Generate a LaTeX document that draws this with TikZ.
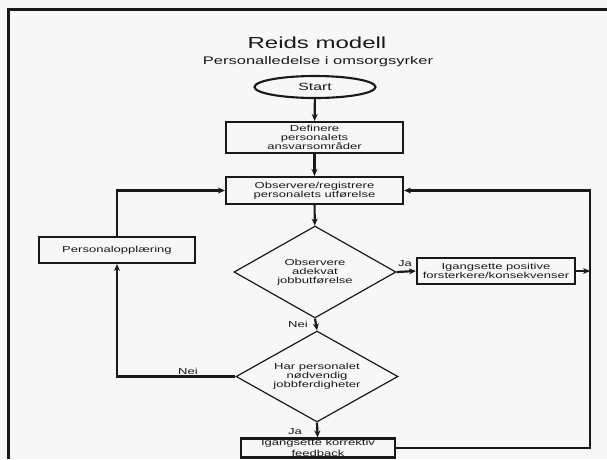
\documentclass[tikz,border=0pt]{standalone}
\usepackage{fontspec}
\setmainfont{Liberation Sans}[FakeStretch=1.5]
\usetikzlibrary{arrows.meta, shapes, positioning}

\begin{document}
\begin{tikzpicture}[
  x=1pt, y=1pt,
  every node/.style = {font=\fontsize{8.7}{9}\selectfont, text=black!90},
  flowbox/.style  = {rectangle, draw=black!90, line width=2.1pt,
                     inner sep=0pt, align=center},
  startbox/.style = {ellipse, draw=black!90, line width=2.1pt,
                     minimum width=121pt, minimum height=22pt,
                     inner sep=0pt, font=\fontsize{10.5}{12}\selectfont},
  askbox/.style   = {diamond, aspect=1.76, draw=black!90, line width=1.2pt,
                     minimum width=162pt, minimum height=92pt,
                     inner sep=0pt, align=center},
  arr/.style      = {-{Stealth[length=7pt, width=6pt]}, line width=2.2pt,
                     black!90},
  backline/.style = {line width=2.6pt},
]

%% ── Sheet and frame ───────────────────────────────────────────────────────
\fill[black!3] (0,0) rectangle (607,-459);
\useasboundingbox (0,0) rectangle (607,-459);
\draw[line width=3pt, black!90] (8,-459) -- (8,-9) -- (607,-9);

%% ── Headings ──────────────────────────────────────────────────────────────
\node[font=\fontsize{16}{18}\selectfont] at (317,-43) (title) {Reids modell};
\node[font=\fontsize{11}{13}\selectfont] at (318,-62) (subtitle)
  {Personalledelse i omsorgsyrker};

%% ── Main column ───────────────────────────────────────────────────────────
\node[startbox] at (315,-87) (start) {Start};

\node[flowbox, minimum width=177pt, minimum height=31pt]
  at (314.5,-137.5) (defin) {Definere\\personalets\\ansvarsområder};

\node[flowbox, minimum width=177pt, minimum height=27pt]
  at (314.5,-190.5) (obs) {Observere/registrere\\personalets utførelse};

\node[askbox] at (315,-272) (adekvat)
  {Observere\\adekvat\\jobbutførelse};

\node[askbox, minimum height=91pt] at (317,-376.5) (ferdig)
  {Har personalet\\nødvendig\\jobbferdigheter};

\node[flowbox, minimum width=154pt, minimum height=19pt,
      font=\fontsize{8.7}{11}\selectfont]
  at (318,-448) (korr) {Igangsette korrektiv\\feedback};

%% ── Side boxes ────────────────────────────────────────────────────────────
\node[flowbox, minimum width=158pt, minimum height=26pt]
  at (496,-271) (posit) {Igangsette positive\\forsterkere/konsekvenser};

\node[flowbox, minimum width=156pt, minimum height=26pt]
  at (117,-250) (opplaer) {Personalopplæring};

\coordinate (rloop) at (590,-320);

%% ── Main vertical arrows ─────────────────────────────────────────────────
\draw[arr] (start)  -- (defin);
\draw[arr] (defin)  -- (obs);
\draw[arr] (obs)    -- (adekvat);
\draw[arr] (adekvat.south) -- (ferdig.north);
\draw[arr] (ferdig.south)  -- (korr);
\draw[arr] (adekvat.east)  -- (posit.west);

%% ── Loop-back lines ───────────────────────────────────────────────────────
\draw[arr, backline] (ferdig.west) -| (opplaer.south);
\draw[arr, backline] (opplaer.north) |- (obs.west);
\draw[arr, backline] (korr.east) -| (rloop) |- (obs.east);
\draw[arr] (posit.east) -- (posit.east -| rloop);

%% ── Answer labels ─────────────────────────────────────────────────────────
\node at (405,-264) (ja1)  {Ja};
\node at (298,-324) (nei1) {Nei};
\node at (188,-371) (nei2) {Nei};
\node at (295,-432) (ja2)  {Ja};

\end{tikzpicture}
\end{document}
